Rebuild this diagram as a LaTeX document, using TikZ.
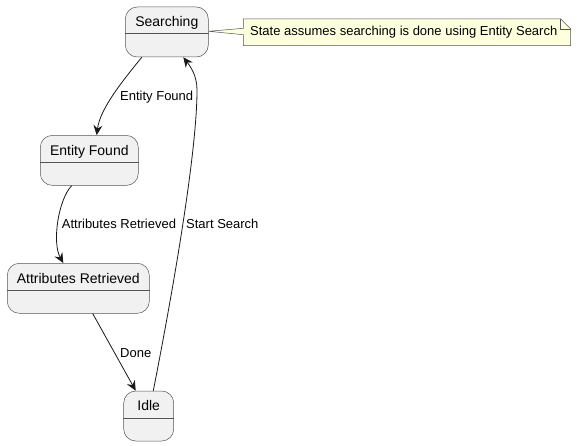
\documentclass[tikz,border=0pt]{standalone}
\usepackage{fontspec}
\setmainfont{Liberation Sans}
\usetikzlibrary{arrows.meta,calc}
\definecolor{statefill}{HTML}{F1F1F1}
\definecolor{lineclr}{HTML}{181818}
\definecolor{bordclr}{HTML}{555555}
\definecolor{notefill}{HTML}{FEFFDD}
\begin{document}
\begin{tikzpicture}[x=1pt,y=-1pt,
  statebox/.style={draw=bordclr, line width=0.5pt, fill=statefill, rounded corners=12pt, minimum height=50pt, inner sep=0pt},
  stitle/.style={anchor=base, font=\fontsize{14pt}{16pt}\selectfont, inner sep=0pt},
  elabel/.style={anchor=base west, font=\fontsize{13pt}{15pt}\selectfont, inner sep=0pt},
  trans/.style={draw=lineclr, line width=0.8pt, -{Stealth[length=10pt,width=9pt,inset=3.5pt]}}]
\useasboundingbox (0,0) rectangle (577,446);
% states
\node[statebox, minimum width=83pt] (s) at (166.8,32) {};
\node[statebox, minimum width=98pt] (e) at (89.3,160.4) {};
\node[statebox, minimum width=142pt] (a) at (78.3,288.3) {};
\node[statebox, minimum width=50pt] (i) at (148.7,416) {};
\foreach \n/\t in {s/Searching, e/Entity Found, a/Attributes Retrieved, i/Idle}{
  \node[stitle] (\n t) at ([yshift=-20pt]\n.north) {\t};
  \draw[bordclr, line width=0.5pt] ([yshift=-27pt]\n.north west) -- ([yshift=-27pt]\n.north east);
}
% note
\coordinate (nw) at (243.3,19);
\coordinate (se) at (570.7,45.7);
\draw[draw=bordclr, line width=0.5pt, fill=notefill]
  (nw) -- (560.7,19) -- (570.7,29) -- (se) -- (243.3,45.7) -- (243.3,34.7)
  -- ([yshift=0.7pt]s.east) -- (243.3,28.3) -- cycle;
\draw[bordclr, line width=0.5pt] (560.7,19) -- (560.7,29) -- (570.7,29);
\node[elabel] (note) at (250,36) {State assumes searching is done using Entity Search};
% transitions
\draw[trans] ([xshift=-25pt]s.south) .. controls (125,78) and (100,108) .. ([xshift=7.4pt]e.north);
\draw[trans] ([xshift=-17.6pt]e.south) .. controls (58,200) and (52,243) .. ([xshift=-15pt]a.north);
\draw[trans] ([xshift=14.4pt]a.south) -- ([xshift=-13pt]i.north);
\draw[trans] ([xshift=4.6pt]i.north) .. controls (175,280) and (197,150) .. (197,90)
  .. controls (197,75) and (190,66) .. ([xshift=16.5pt]s.south);
% labels
\node[elabel] (l1) at (120,101) {Entity Found};
\node[elabel] (l2) at (61.7,228.5) {Attributes Retrieved};
\node[elabel] (l3) at (186,228.5) {Start Search};
\node[elabel] (l4) at (120,357) {Done};
\end{tikzpicture}
\end{document}
